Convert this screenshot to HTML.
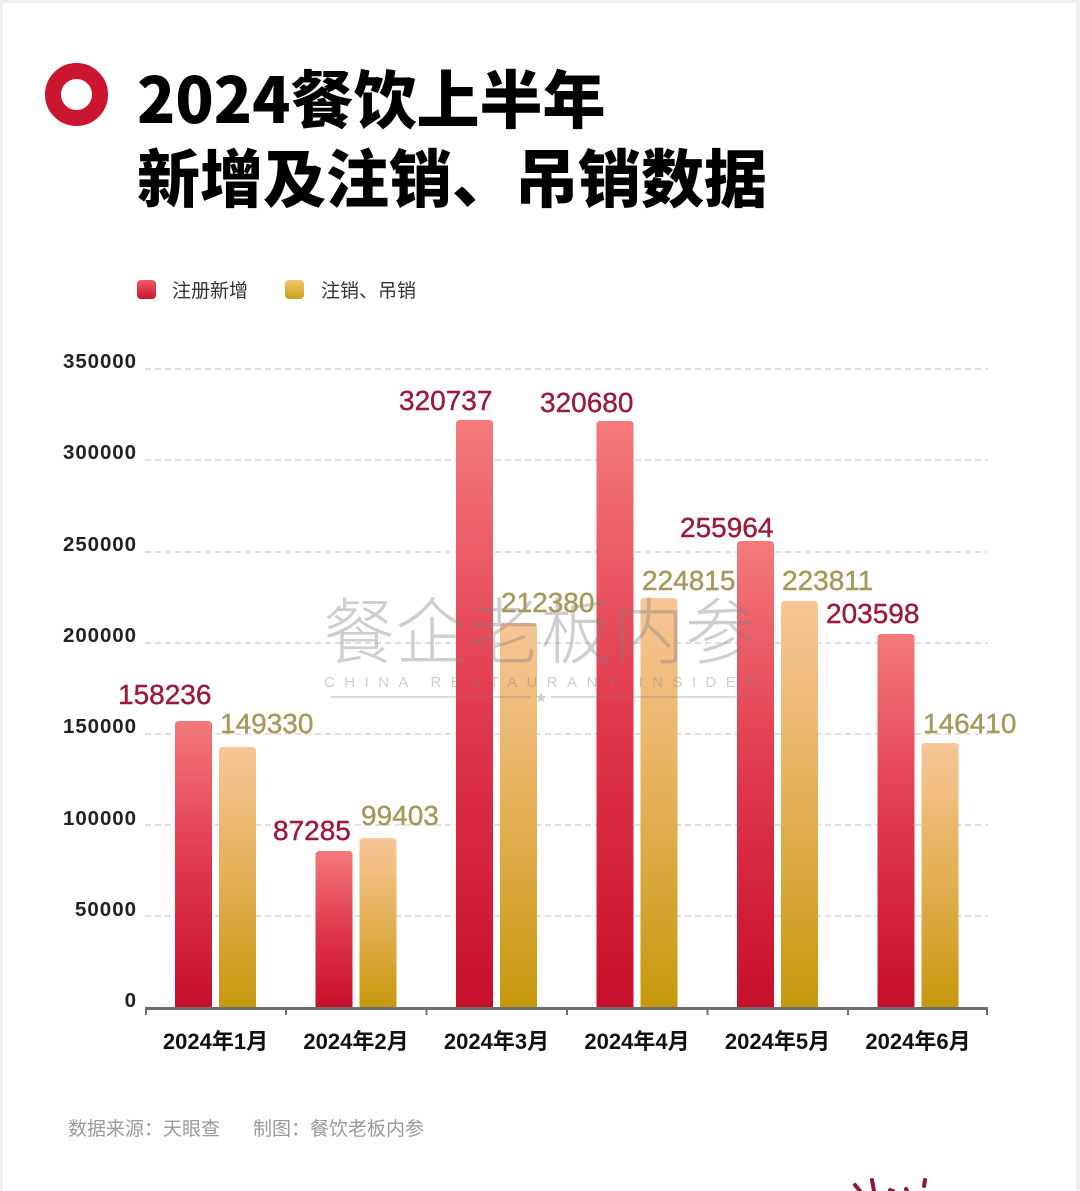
<!DOCTYPE html>
<html>
<head>
<meta charset="utf-8">
<style>
html,body{margin:0;padding:0;background:#efefef;}
svg{display:block;}
</style>
</head>
<body>
<svg width="1080" height="1191" viewBox="0 0 1080 1191" xmlns="http://www.w3.org/2000/svg">
<defs>
<linearGradient id="gr" x1="0" y1="0" x2="0" y2="1">
<stop offset="0" stop-color="#f47a7a"/>
<stop offset="0.5" stop-color="#e0384c"/>
<stop offset="1" stop-color="#c70f2a"/>
</linearGradient>
<linearGradient id="gg" x1="0" y1="0" x2="0" y2="1">
<stop offset="0" stop-color="#f8c698"/>
<stop offset="0.5" stop-color="#e3b055"/>
<stop offset="1" stop-color="#c6980c"/>
</linearGradient>
<linearGradient id="lr" x1="0" y1="0" x2="0" y2="1">
<stop offset="0" stop-color="#ee5c66"/>
<stop offset="1" stop-color="#c8142e"/>
</linearGradient>
<linearGradient id="lg" x1="0" y1="0" x2="0" y2="1">
<stop offset="0" stop-color="#f2c66e"/>
<stop offset="1" stop-color="#caa018"/>
</linearGradient>
</defs>

<rect x="0" y="0" width="1080" height="1191" fill="#efefef"/>
<rect x="3" y="3" width="1073" height="1188" fill="#ffffff"/>

<!-- title icon -->
<circle cx="76.5" cy="94.5" r="23.5" fill="none" stroke="#cc1530" stroke-width="16"/>

<!-- title -->
<g font-family="'Noto Sans CJK SC','WenQuanYi Zen Hei',sans-serif" font-weight="900" font-size="63" fill="#000">
<text x="137" y="123">2024餐饮上半年</text>
<text x="137" y="202">新增及注销、吊销数据</text>
</g>

<!-- legend -->
<rect x="137" y="280" width="19" height="19" rx="4" fill="url(#lr)"/>
<text x="172" y="297" font-family="'Liberation Sans','Noto Sans CJK SC',sans-serif" font-size="19" fill="#333">注册新增</text>
<rect x="285" y="280" width="19" height="19" rx="4" fill="url(#lg)"/>
<text x="321" y="297" font-family="'Liberation Sans','Noto Sans CJK SC',sans-serif" font-size="19" fill="#333">注销、吊销</text>

<!-- gridlines -->
<g stroke="#cfcfcf" stroke-width="1.2" stroke-dasharray="6,4">
<line x1="145" y1="369" x2="988" y2="369"/>
<line x1="145" y1="460" x2="988" y2="460"/>
<line x1="145" y1="552" x2="988" y2="552"/>
<line x1="145" y1="643" x2="988" y2="643"/>
<line x1="145" y1="734" x2="988" y2="734"/>
<line x1="145" y1="825" x2="988" y2="825"/>
<line x1="145" y1="916" x2="988" y2="916"/>
</g>

<!-- y labels -->
<g font-family="'Liberation Sans',sans-serif" font-weight="bold" font-size="20.5" fill="#222" text-anchor="end">
<text x="136" y="368" textLength="73" lengthAdjust="spacing">350000</text>
<text x="136" y="459" textLength="73" lengthAdjust="spacing">300000</text>
<text x="136" y="551" textLength="73" lengthAdjust="spacing">250000</text>
<text x="136" y="642" textLength="73" lengthAdjust="spacing">200000</text>
<text x="136" y="733" textLength="73" lengthAdjust="spacing">150000</text>
<text x="136" y="825" textLength="73" lengthAdjust="spacing">100000</text>
<text x="136" y="916" textLength="61" lengthAdjust="spacing">50000</text>
<text x="136" y="1007">0</text>
</g>

<!-- bars (red) -->
<g fill="url(#gr)">
<path d="M175 1008 V725 Q175 721 179 721 H208 Q212 721 212 725 V1008 Z"/>
<path d="M315.5 1008 V855 Q315.5 851 319.5 851 H348.5 Q352.5 851 352.5 855 V1008 Z"/>
<path d="M456 1008 V424 Q456 420 460 420 H489 Q493 420 493 424 V1008 Z"/>
<path d="M596.5 1008 V425 Q596.5 421 600.5 421 H629.5 Q633.5 421 633.5 425 V1008 Z"/>
<path d="M737 1008 V545 Q737 541 741 541 H770 Q774 541 774 545 V1008 Z"/>
<path d="M877.5 1008 V638 Q877.5 634 881.5 634 H910.5 Q914.5 634 914.5 638 V1008 Z"/>
</g>
<!-- bars (gold) -->
<g fill="url(#gg)">
<path d="M219 1008 V751 Q219 747 223 747 H252 Q256 747 256 751 V1008 Z"/>
<path d="M359.5 1008 V842 Q359.5 838 363.5 838 H392.5 Q396.5 838 396.5 842 V1008 Z"/>
<path d="M500 1008 V627 Q500 623 504 623 H533 Q537 623 537 627 V1008 Z"/>
<path d="M640.5 1008 V602 Q640.5 598 644.5 598 H673.5 Q677.5 598 677.5 602 V1008 Z"/>
<path d="M781 1008 V605 Q781 601 785 601 H814 Q818 601 818 605 V1008 Z"/>
<path d="M921.5 1008 V747 Q921.5 743 925.5 743 H954.5 Q958.5 743 958.5 747 V1008 Z"/>
</g>

<!-- watermark -->
<g opacity="0.38">
<text x="323" y="658" font-family="'Noto Sans CJK SC',sans-serif" font-weight="300" font-size="72" fill="#808080" textLength="434" lengthAdjust="spacing">餐企老板内参</text>
<text x="324" y="687" font-family="'Liberation Sans',sans-serif" font-size="15" fill="#808080" textLength="432" lengthAdjust="spacing">CHINA RESTAURANT INSIDER</text>
<line x1="331" y1="697" x2="531" y2="697" stroke="#808080" stroke-width="1.5"/>
<line x1="551" y1="697" x2="751" y2="697" stroke="#808080" stroke-width="1.5"/>
<polygon points="541,692 542.5,696 546.5,696 543.3,698.5 544.5,702.5 541,700 537.5,702.5 538.7,698.5 535.5,696 539.5,696" fill="#808080"/>
</g>

<!-- axis -->
<line x1="145" y1="1008.5" x2="988" y2="1008.5" stroke="#6e6e6e" stroke-width="3"/>
<g stroke="#6e6e6e" stroke-width="2">
<line x1="146" y1="1008" x2="146" y2="1015"/>
<line x1="286" y1="1008" x2="286" y2="1015"/>
<line x1="426.5" y1="1008" x2="426.5" y2="1015"/>
<line x1="567" y1="1008" x2="567" y2="1015"/>
<line x1="707.5" y1="1008" x2="707.5" y2="1015"/>
<line x1="848" y1="1008" x2="848" y2="1015"/>
<line x1="987" y1="1008" x2="987" y2="1015"/>
</g>

<!-- x labels -->
<g font-family="'Liberation Sans','Noto Sans CJK SC',sans-serif" font-weight="bold" font-size="22" fill="#111" text-anchor="middle">
<text x="215.5" y="1049">2024年1月</text>
<text x="356" y="1049">2024年2月</text>
<text x="496.5" y="1049">2024年3月</text>
<text x="637" y="1049">2024年4月</text>
<text x="777.5" y="1049">2024年5月</text>
<text x="918" y="1049">2024年6月</text>
</g>

<!-- value labels red -->
<g font-family="'Liberation Sans',sans-serif" font-size="28" fill="#9c1a38" stroke="#9c1a38" stroke-width="0.4">
<text x="118" y="704">158236</text>
<text x="273" y="840">87285</text>
<text x="399" y="410">320737</text>
<text x="540" y="412">320680</text>
<text x="680" y="537">255964</text>
<text x="826" y="623">203598</text>
</g>
<!-- value labels gold -->
<g font-family="'Liberation Sans',sans-serif" font-size="28" fill="#a69858" stroke="#a69858" stroke-width="0.4">
<text x="220" y="733">149330</text>
<text x="361" y="825">99403</text>
<text x="501" y="612">212380</text>
<text x="642" y="590">224815</text>
<text x="782" y="590">223811</text>
<text x="923" y="733">146410</text>
</g>

<!-- footer -->
<g font-family="'Liberation Sans','Noto Sans CJK SC',sans-serif" font-size="19" fill="#9a9a9a">
<text x="68" y="1135">数据来源：天眼查</text>
<text x="253" y="1135">制图：餐饮老板内参</text>
</g>

<!-- handwriting marks at bottom -->
<g stroke="#8a1a3a" stroke-width="4" stroke-linecap="round" fill="none">
<path d="M855 1185 L860 1191"/>
<path d="M872 1180 L874 1191"/>
<path d="M890 1190 L893 1191"/>
<path d="M906 1189 L907 1191"/>
<path d="M925 1180 L924 1186"/>
</g>
</svg>
</body>
</html>
